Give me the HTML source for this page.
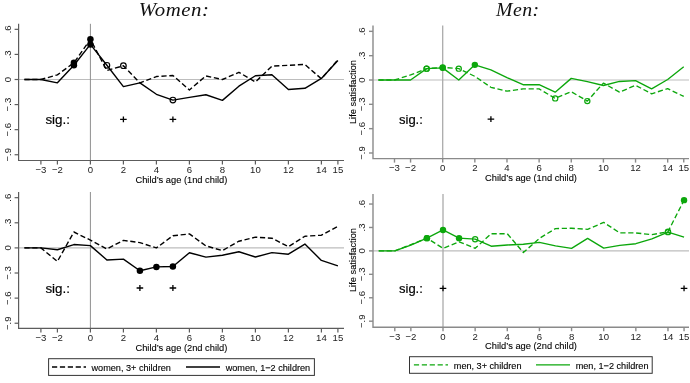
<!DOCTYPE html>
<html><head><meta charset="utf-8"><style>
html,body{margin:0;padding:0;background:#fff;width:690px;height:383px;overflow:hidden}
svg{display:block;will-change:transform}
text{font-family:"Liberation Sans",sans-serif;fill:#000;stroke:#000;stroke-width:0}
.tk{font-size:9.6px;fill:#222}
.tt{font-size:9.3px;stroke-width:0.1px}
.sg{font-size:13.4px;stroke-width:0.18px}
.lg{font-size:9.15px;stroke-width:0.12px}
.ti{font-family:"Liberation Serif",serif;font-style:italic;font-size:19px;letter-spacing:0.5px;fill:#111;stroke:none}
</style></head><body>
<svg width="690" height="383" viewBox="0 0 690 383">
<rect width="690" height="383" fill="#fff"/>
<line x1="18.6" y1="79.5" x2="344" y2="79.5" stroke="#bdbdbd" stroke-width="1.2"/>
<line x1="90.4" y1="23.8" x2="90.4" y2="160.5" stroke="#8f8f8f" stroke-width="1.0"/>
<path d="M18.6 23.8 V160.5 H344" fill="none" stroke="#5c5c5c" stroke-width="1.2"/>
<line x1="14.6" y1="29.34" x2="18.6" y2="29.34" stroke="#5c5c5c" stroke-width="1.2"/>
<text transform="translate(10.8,29.34) rotate(-90)" text-anchor="middle" class="tk">.6</text>
<line x1="14.6" y1="54.42" x2="18.6" y2="54.42" stroke="#5c5c5c" stroke-width="1.2"/>
<text transform="translate(10.8,54.42) rotate(-90)" text-anchor="middle" class="tk">.3</text>
<line x1="14.6" y1="79.5" x2="18.6" y2="79.5" stroke="#5c5c5c" stroke-width="1.2"/>
<text transform="translate(10.8,79.5) rotate(-90)" text-anchor="middle" class="tk">0</text>
<line x1="14.6" y1="104.58" x2="18.6" y2="104.58" stroke="#5c5c5c" stroke-width="1.2"/>
<text transform="translate(10.8,104.58) rotate(-90)" text-anchor="middle" class="tk">−.3</text>
<line x1="14.6" y1="129.66" x2="18.6" y2="129.66" stroke="#5c5c5c" stroke-width="1.2"/>
<text transform="translate(10.8,129.66) rotate(-90)" text-anchor="middle" class="tk">−.6</text>
<line x1="14.6" y1="154.74" x2="18.6" y2="154.74" stroke="#5c5c5c" stroke-width="1.2"/>
<text transform="translate(10.8,154.74) rotate(-90)" text-anchor="middle" class="tk">−.9</text>
<line x1="40.9" y1="160.5" x2="40.9" y2="164.5" stroke="#5c5c5c" stroke-width="1.2"/>
<text x="40.9" y="172.8" text-anchor="middle" class="tk">−3</text>
<line x1="57.4" y1="160.5" x2="57.4" y2="164.5" stroke="#5c5c5c" stroke-width="1.2"/>
<text x="57.4" y="172.8" text-anchor="middle" class="tk">−2</text>
<line x1="90.4" y1="160.5" x2="90.4" y2="164.5" stroke="#5c5c5c" stroke-width="1.2"/>
<text x="90.4" y="172.8" text-anchor="middle" class="tk">0</text>
<line x1="123.4" y1="160.5" x2="123.4" y2="164.5" stroke="#5c5c5c" stroke-width="1.2"/>
<text x="123.4" y="172.8" text-anchor="middle" class="tk">2</text>
<line x1="156.4" y1="160.5" x2="156.4" y2="164.5" stroke="#5c5c5c" stroke-width="1.2"/>
<text x="156.4" y="172.8" text-anchor="middle" class="tk">4</text>
<line x1="189.4" y1="160.5" x2="189.4" y2="164.5" stroke="#5c5c5c" stroke-width="1.2"/>
<text x="189.4" y="172.8" text-anchor="middle" class="tk">6</text>
<line x1="222.4" y1="160.5" x2="222.4" y2="164.5" stroke="#5c5c5c" stroke-width="1.2"/>
<text x="222.4" y="172.8" text-anchor="middle" class="tk">8</text>
<line x1="255.4" y1="160.5" x2="255.4" y2="164.5" stroke="#5c5c5c" stroke-width="1.2"/>
<text x="255.4" y="172.8" text-anchor="middle" class="tk">10</text>
<line x1="288.4" y1="160.5" x2="288.4" y2="164.5" stroke="#5c5c5c" stroke-width="1.2"/>
<text x="288.4" y="172.8" text-anchor="middle" class="tk">12</text>
<line x1="321.4" y1="160.5" x2="321.4" y2="164.5" stroke="#5c5c5c" stroke-width="1.2"/>
<text x="321.4" y="172.8" text-anchor="middle" class="tk">14</text>
<line x1="337.9" y1="160.5" x2="337.9" y2="164.5" stroke="#5c5c5c" stroke-width="1.2"/>
<text x="337.9" y="172.8" text-anchor="middle" class="tk">15</text>
<text x="181.4" y="183.0" text-anchor="middle" class="tt">Child’s age (1nd child)</text>
<polyline points="24.4,79.5 40.9,79.5 57.4,74.9 73.9,62.78 90.4,39.37 106.9,70.55 123.4,65.71 139.9,82.84 156.4,76.57 172.9,75.49 189.4,89.95 205.9,75.91 222.4,79.5 238.9,72.31 255.4,82.01 271.9,66.12 288.4,65.29 304.9,64.45 321.4,78.83 337.9,59.77" fill="none" stroke="#000" stroke-width="1.4" stroke-dasharray="5.2 2.7" stroke-linejoin="round"/>
<polyline points="24.4,79.5 40.9,79.5 57.4,82.84 73.9,65.29 90.4,44.39 106.9,65.29 123.4,86.61 139.9,82.84 156.4,94.3 172.9,100.07 189.4,97.39 205.9,94.72 222.4,100.4 238.9,86.19 255.4,75.74 271.9,74.82 288.4,89.53 304.9,88.28 321.4,78.41 337.9,60.52" fill="none" stroke="#000" stroke-width="1.4" stroke-linejoin="round"/>
<circle cx="73.9" cy="62.78" r="3.25" fill="#000"/>
<circle cx="90.4" cy="39.37" r="3.25" fill="#000"/>
<circle cx="123.4" cy="65.71" r="2.8" fill="none" stroke="#000" stroke-width="1.2"/>
<circle cx="73.9" cy="65.29" r="3.25" fill="#000"/>
<circle cx="90.4" cy="44.39" r="3.25" fill="#000"/>
<circle cx="106.9" cy="65.29" r="2.8" fill="none" stroke="#000" stroke-width="1.2"/>
<circle cx="172.9" cy="100.07" r="2.8" fill="none" stroke="#000" stroke-width="1.2"/>
<text x="45.4" y="123.9" class="sg">sig.:</text>
<path d="M120.1 119.4H126.7M123.4 116.5V122.3" stroke="#000" stroke-width="1.3"/>
<path d="M169.6 119.4H176.2M172.9 116.5V122.3" stroke="#000" stroke-width="1.3"/>
<line x1="18.6" y1="247.9" x2="344" y2="247.9" stroke="#bdbdbd" stroke-width="1.2"/>
<line x1="90.4" y1="192.0" x2="90.4" y2="328.4" stroke="#8f8f8f" stroke-width="1.0"/>
<path d="M18.6 192.0 V328.4 H344" fill="none" stroke="#5c5c5c" stroke-width="1.2"/>
<line x1="14.6" y1="197.68" x2="18.6" y2="197.68" stroke="#5c5c5c" stroke-width="1.2"/>
<text transform="translate(10.8,197.68) rotate(-90)" text-anchor="middle" class="tk">.6</text>
<line x1="14.6" y1="222.79" x2="18.6" y2="222.79" stroke="#5c5c5c" stroke-width="1.2"/>
<text transform="translate(10.8,222.79) rotate(-90)" text-anchor="middle" class="tk">.3</text>
<line x1="14.6" y1="247.9" x2="18.6" y2="247.9" stroke="#5c5c5c" stroke-width="1.2"/>
<text transform="translate(10.8,247.9) rotate(-90)" text-anchor="middle" class="tk">0</text>
<line x1="14.6" y1="273.01" x2="18.6" y2="273.01" stroke="#5c5c5c" stroke-width="1.2"/>
<text transform="translate(10.8,273.01) rotate(-90)" text-anchor="middle" class="tk">−.3</text>
<line x1="14.6" y1="298.12" x2="18.6" y2="298.12" stroke="#5c5c5c" stroke-width="1.2"/>
<text transform="translate(10.8,298.12) rotate(-90)" text-anchor="middle" class="tk">−.6</text>
<line x1="14.6" y1="323.23" x2="18.6" y2="323.23" stroke="#5c5c5c" stroke-width="1.2"/>
<text transform="translate(10.8,323.23) rotate(-90)" text-anchor="middle" class="tk">−.9</text>
<line x1="40.9" y1="328.4" x2="40.9" y2="332.4" stroke="#5c5c5c" stroke-width="1.2"/>
<text x="40.9" y="340.7" text-anchor="middle" class="tk">−3</text>
<line x1="57.4" y1="328.4" x2="57.4" y2="332.4" stroke="#5c5c5c" stroke-width="1.2"/>
<text x="57.4" y="340.7" text-anchor="middle" class="tk">−2</text>
<line x1="90.4" y1="328.4" x2="90.4" y2="332.4" stroke="#5c5c5c" stroke-width="1.2"/>
<text x="90.4" y="340.7" text-anchor="middle" class="tk">0</text>
<line x1="123.4" y1="328.4" x2="123.4" y2="332.4" stroke="#5c5c5c" stroke-width="1.2"/>
<text x="123.4" y="340.7" text-anchor="middle" class="tk">2</text>
<line x1="156.4" y1="328.4" x2="156.4" y2="332.4" stroke="#5c5c5c" stroke-width="1.2"/>
<text x="156.4" y="340.7" text-anchor="middle" class="tk">4</text>
<line x1="189.4" y1="328.4" x2="189.4" y2="332.4" stroke="#5c5c5c" stroke-width="1.2"/>
<text x="189.4" y="340.7" text-anchor="middle" class="tk">6</text>
<line x1="222.4" y1="328.4" x2="222.4" y2="332.4" stroke="#5c5c5c" stroke-width="1.2"/>
<text x="222.4" y="340.7" text-anchor="middle" class="tk">8</text>
<line x1="255.4" y1="328.4" x2="255.4" y2="332.4" stroke="#5c5c5c" stroke-width="1.2"/>
<text x="255.4" y="340.7" text-anchor="middle" class="tk">10</text>
<line x1="288.4" y1="328.4" x2="288.4" y2="332.4" stroke="#5c5c5c" stroke-width="1.2"/>
<text x="288.4" y="340.7" text-anchor="middle" class="tk">12</text>
<line x1="321.4" y1="328.4" x2="321.4" y2="332.4" stroke="#5c5c5c" stroke-width="1.2"/>
<text x="321.4" y="340.7" text-anchor="middle" class="tk">14</text>
<line x1="337.9" y1="328.4" x2="337.9" y2="332.4" stroke="#5c5c5c" stroke-width="1.2"/>
<text x="337.9" y="340.7" text-anchor="middle" class="tk">15</text>
<text x="181.4" y="350.6" text-anchor="middle" class="tt">Child’s age (2nd child)</text>
<polyline points="24.4,247.9 40.9,247.9 57.4,261.46 73.9,232 90.4,240.12 106.9,248.99 123.4,240.37 139.9,242.63 156.4,247.9 172.9,235.76 189.4,233.92 205.9,245.89 222.4,250.58 238.9,241.2 255.4,237.19 271.9,238.19 288.4,246.73 304.9,236.27 321.4,235.18 337.9,226.39" fill="none" stroke="#000" stroke-width="1.4" stroke-dasharray="5.2 2.7" stroke-linejoin="round"/>
<polyline points="24.4,247.9 40.9,247.9 57.4,249.74 73.9,244.55 90.4,245.64 106.9,259.95 123.4,259.12 139.9,270.75 156.4,266.9 172.9,266.57 189.4,252.75 205.9,257.11 222.4,255.27 238.9,251.75 255.4,257.02 271.9,252.59 288.4,254.18 304.9,244.05 321.4,260.45 337.9,265.81" fill="none" stroke="#000" stroke-width="1.4" stroke-linejoin="round"/>
<circle cx="139.9" cy="270.75" r="3.25" fill="#000"/>
<circle cx="156.4" cy="266.9" r="3.25" fill="#000"/>
<circle cx="172.9" cy="266.57" r="3.25" fill="#000"/>
<text x="45.4" y="292.8" class="sg">sig.:</text>
<path d="M136.6 288H143.2M139.9 285.1V290.9" stroke="#000" stroke-width="1.3"/>
<path d="M169.6 288H176.2M172.9 285.1V290.9" stroke="#000" stroke-width="1.3"/>
<line x1="373.0" y1="80" x2="689" y2="80" stroke="#bdbdbd" stroke-width="1.2"/>
<line x1="442.7" y1="25.5" x2="442.7" y2="158.6" stroke="#ababab" stroke-width="1.3"/>
<path d="M373.0 25.5 V158.6 H689" fill="none" stroke="#8a8a8a" stroke-width="1.4"/>
<line x1="369" y1="31.34" x2="373.0" y2="31.34" stroke="#8a8a8a" stroke-width="1.4"/>
<text transform="translate(365.2,31.34) rotate(-90)" text-anchor="middle" class="tk">.6</text>
<line x1="369" y1="55.67" x2="373.0" y2="55.67" stroke="#8a8a8a" stroke-width="1.4"/>
<text transform="translate(365.2,55.67) rotate(-90)" text-anchor="middle" class="tk">.3</text>
<line x1="369" y1="80" x2="373.0" y2="80" stroke="#8a8a8a" stroke-width="1.4"/>
<text transform="translate(365.2,80) rotate(-90)" text-anchor="middle" class="tk">0</text>
<line x1="369" y1="104.33" x2="373.0" y2="104.33" stroke="#8a8a8a" stroke-width="1.4"/>
<text transform="translate(365.2,104.33) rotate(-90)" text-anchor="middle" class="tk">−.3</text>
<line x1="369" y1="128.66" x2="373.0" y2="128.66" stroke="#8a8a8a" stroke-width="1.4"/>
<text transform="translate(365.2,128.66) rotate(-90)" text-anchor="middle" class="tk">−.6</text>
<line x1="369" y1="152.99" x2="373.0" y2="152.99" stroke="#8a8a8a" stroke-width="1.4"/>
<text transform="translate(365.2,152.99) rotate(-90)" text-anchor="middle" class="tk">−.9</text>
<line x1="394.49" y1="158.6" x2="394.49" y2="162.6" stroke="#8a8a8a" stroke-width="1.4"/>
<text x="394.49" y="170.9" text-anchor="middle" class="tk">−3</text>
<line x1="410.56" y1="158.6" x2="410.56" y2="162.6" stroke="#8a8a8a" stroke-width="1.4"/>
<text x="410.56" y="170.9" text-anchor="middle" class="tk">−2</text>
<line x1="442.7" y1="158.6" x2="442.7" y2="162.6" stroke="#8a8a8a" stroke-width="1.4"/>
<text x="442.7" y="170.9" text-anchor="middle" class="tk">0</text>
<line x1="474.84" y1="158.6" x2="474.84" y2="162.6" stroke="#8a8a8a" stroke-width="1.4"/>
<text x="474.84" y="170.9" text-anchor="middle" class="tk">2</text>
<line x1="506.98" y1="158.6" x2="506.98" y2="162.6" stroke="#8a8a8a" stroke-width="1.4"/>
<text x="506.98" y="170.9" text-anchor="middle" class="tk">4</text>
<line x1="539.12" y1="158.6" x2="539.12" y2="162.6" stroke="#8a8a8a" stroke-width="1.4"/>
<text x="539.12" y="170.9" text-anchor="middle" class="tk">6</text>
<line x1="571.26" y1="158.6" x2="571.26" y2="162.6" stroke="#8a8a8a" stroke-width="1.4"/>
<text x="571.26" y="170.9" text-anchor="middle" class="tk">8</text>
<line x1="603.4" y1="158.6" x2="603.4" y2="162.6" stroke="#8a8a8a" stroke-width="1.4"/>
<text x="603.4" y="170.9" text-anchor="middle" class="tk">10</text>
<line x1="635.54" y1="158.6" x2="635.54" y2="162.6" stroke="#8a8a8a" stroke-width="1.4"/>
<text x="635.54" y="170.9" text-anchor="middle" class="tk">12</text>
<line x1="667.68" y1="158.6" x2="667.68" y2="162.6" stroke="#8a8a8a" stroke-width="1.4"/>
<text x="667.68" y="170.9" text-anchor="middle" class="tk">14</text>
<line x1="683.75" y1="158.6" x2="683.75" y2="162.6" stroke="#8a8a8a" stroke-width="1.4"/>
<text x="683.75" y="170.9" text-anchor="middle" class="tk">15</text>
<text x="531.0" y="180.8" text-anchor="middle" class="tt">Child’s age (1nd child)</text>
<text transform="translate(356.3,92.0) rotate(-90)" text-anchor="middle" class="tt">Life satisfaction</text>
<polyline points="378.42,80 394.49,80 410.56,74.97 426.63,68.65 442.7,67.43 458.77,68.65 474.84,76.35 490.91,87.3 506.98,91.19 523.05,88.92 539.12,88.92 555.19,98.41 571.26,91.68 587.33,101.09 603.4,83.08 619.47,92.16 635.54,85.27 651.61,93.79 667.68,88.6 683.75,96.46" fill="none" stroke="#0ca70c" stroke-width="1.35" stroke-dasharray="5.2 2.7" stroke-linejoin="round"/>
<polyline points="378.42,80 394.49,80 410.56,80 426.63,68.65 442.7,67.84 458.77,80 474.84,64.83 490.91,69.86 506.98,77.57 523.05,84.7 539.12,84.7 555.19,92.16 571.26,78.38 587.33,81.62 603.4,85.51 619.47,81.46 635.54,80.65 651.61,88.92 667.68,79.51 683.75,66.7" fill="none" stroke="#0ca70c" stroke-width="1.35" stroke-linejoin="round"/>
<circle cx="426.63" cy="68.65" r="2.6" fill="none" stroke="#0ca70c" stroke-width="1.2"/>
<circle cx="442.7" cy="67.43" r="2.6" fill="none" stroke="#0ca70c" stroke-width="1.2"/>
<circle cx="458.77" cy="68.65" r="2.6" fill="none" stroke="#0ca70c" stroke-width="1.2"/>
<circle cx="555.19" cy="98.41" r="2.6" fill="none" stroke="#0ca70c" stroke-width="1.2"/>
<circle cx="587.33" cy="101.09" r="2.6" fill="none" stroke="#0ca70c" stroke-width="1.2"/>
<circle cx="426.63" cy="68.65" r="2.6" fill="none" stroke="#0ca70c" stroke-width="1.2"/>
<circle cx="442.7" cy="67.84" r="3.2" fill="#0ca70c"/>
<circle cx="474.84" cy="64.83" r="3.2" fill="#0ca70c"/>
<text x="399" y="123.9" class="sg" style="font-size:13px">sig.:</text>
<path d="M487.61 119.1H494.21M490.91 116.2V122" stroke="#000" stroke-width="1.3"/>
<line x1="373.0" y1="250.9" x2="689" y2="250.9" stroke="#bdbdbd" stroke-width="1.2"/>
<line x1="443" y1="193.9" x2="443" y2="327.2" stroke="#ababab" stroke-width="1.3"/>
<path d="M373.0 193.9 V327.2 H689" fill="none" stroke="#8a8a8a" stroke-width="1.4"/>
<line x1="369" y1="204.04" x2="373.0" y2="204.04" stroke="#8a8a8a" stroke-width="1.4"/>
<text transform="translate(365.2,204.04) rotate(-90)" text-anchor="middle" class="tk">.6</text>
<line x1="369" y1="227.47" x2="373.0" y2="227.47" stroke="#8a8a8a" stroke-width="1.4"/>
<text transform="translate(365.2,227.47) rotate(-90)" text-anchor="middle" class="tk">.3</text>
<line x1="369" y1="250.9" x2="373.0" y2="250.9" stroke="#8a8a8a" stroke-width="1.4"/>
<text transform="translate(365.2,250.9) rotate(-90)" text-anchor="middle" class="tk">0</text>
<line x1="369" y1="274.33" x2="373.0" y2="274.33" stroke="#8a8a8a" stroke-width="1.4"/>
<text transform="translate(365.2,274.33) rotate(-90)" text-anchor="middle" class="tk">−.3</text>
<line x1="369" y1="297.76" x2="373.0" y2="297.76" stroke="#8a8a8a" stroke-width="1.4"/>
<text transform="translate(365.2,297.76) rotate(-90)" text-anchor="middle" class="tk">−.6</text>
<line x1="369" y1="321.19" x2="373.0" y2="321.19" stroke="#8a8a8a" stroke-width="1.4"/>
<text transform="translate(365.2,321.19) rotate(-90)" text-anchor="middle" class="tk">−.9</text>
<line x1="394.79" y1="327.2" x2="394.79" y2="331.2" stroke="#8a8a8a" stroke-width="1.4"/>
<text x="394.79" y="339.5" text-anchor="middle" class="tk">−3</text>
<line x1="410.86" y1="327.2" x2="410.86" y2="331.2" stroke="#8a8a8a" stroke-width="1.4"/>
<text x="410.86" y="339.5" text-anchor="middle" class="tk">−2</text>
<line x1="443" y1="327.2" x2="443" y2="331.2" stroke="#8a8a8a" stroke-width="1.4"/>
<text x="443" y="339.5" text-anchor="middle" class="tk">0</text>
<line x1="475.14" y1="327.2" x2="475.14" y2="331.2" stroke="#8a8a8a" stroke-width="1.4"/>
<text x="475.14" y="339.5" text-anchor="middle" class="tk">2</text>
<line x1="507.28" y1="327.2" x2="507.28" y2="331.2" stroke="#8a8a8a" stroke-width="1.4"/>
<text x="507.28" y="339.5" text-anchor="middle" class="tk">4</text>
<line x1="539.42" y1="327.2" x2="539.42" y2="331.2" stroke="#8a8a8a" stroke-width="1.4"/>
<text x="539.42" y="339.5" text-anchor="middle" class="tk">6</text>
<line x1="571.56" y1="327.2" x2="571.56" y2="331.2" stroke="#8a8a8a" stroke-width="1.4"/>
<text x="571.56" y="339.5" text-anchor="middle" class="tk">8</text>
<line x1="603.7" y1="327.2" x2="603.7" y2="331.2" stroke="#8a8a8a" stroke-width="1.4"/>
<text x="603.7" y="339.5" text-anchor="middle" class="tk">10</text>
<line x1="635.84" y1="327.2" x2="635.84" y2="331.2" stroke="#8a8a8a" stroke-width="1.4"/>
<text x="635.84" y="339.5" text-anchor="middle" class="tk">12</text>
<line x1="667.98" y1="327.2" x2="667.98" y2="331.2" stroke="#8a8a8a" stroke-width="1.4"/>
<text x="667.98" y="339.5" text-anchor="middle" class="tk">14</text>
<line x1="684.05" y1="327.2" x2="684.05" y2="331.2" stroke="#8a8a8a" stroke-width="1.4"/>
<text x="684.05" y="339.5" text-anchor="middle" class="tk">15</text>
<text x="531.0" y="349.0" text-anchor="middle" class="tt">Child’s age (2nd child)</text>
<text transform="translate(356.3,260.0) rotate(-90)" text-anchor="middle" class="tt">Life satisfaction</text>
<polyline points="378.72,250.9 394.79,250.9 410.86,244.65 426.93,238.17 443,248.32 459.07,241.76 475.14,248.32 491.21,233.72 507.28,233.72 523.35,252.46 539.42,238.4 555.49,228.56 571.56,228.25 587.63,229.34 603.7,222.39 619.77,232.94 635.84,232.94 651.91,234.66 667.98,231.69 684.05,200.13" fill="none" stroke="#0ca70c" stroke-width="1.35" stroke-dasharray="5.2 2.7" stroke-linejoin="round"/>
<polyline points="378.72,250.9 394.79,250.9 410.86,245.04 426.93,238.17 443,229.97 459.07,238.17 475.14,239.19 491.21,246.21 507.28,245.04 523.35,244.26 539.42,242.31 555.49,245.9 571.56,248.4 587.63,238.4 603.7,248.09 619.77,245.43 635.84,243.71 651.91,238.87 667.98,232.16 684.05,237.15" fill="none" stroke="#0ca70c" stroke-width="1.35" stroke-linejoin="round"/>
<circle cx="426.93" cy="238.17" r="3.2" fill="#0ca70c"/>
<circle cx="667.98" cy="231.69" r="2.6" fill="none" stroke="#0ca70c" stroke-width="1.2"/>
<circle cx="684.05" cy="200.13" r="3.2" fill="#0ca70c"/>
<circle cx="426.93" cy="238.17" r="3.2" fill="#0ca70c"/>
<circle cx="443" cy="229.97" r="3.2" fill="#0ca70c"/>
<circle cx="459.07" cy="238.17" r="3.2" fill="#0ca70c"/>
<circle cx="475.14" cy="239.19" r="2.6" fill="none" stroke="#0ca70c" stroke-width="1.2"/>
<circle cx="667.98" cy="232.16" r="2.6" fill="none" stroke="#0ca70c" stroke-width="1.2"/>
<text x="399" y="292.8" class="sg" style="font-size:13px">sig.:</text>
<path d="M439.7 288.4H446.3M443 285.5V291.3" stroke="#000" stroke-width="1.3"/>
<path d="M680.75 288.4H687.35M684.05 285.5V291.3" stroke="#000" stroke-width="1.3"/>
<text transform="translate(174.2,16.0) scale(1.095,1)" text-anchor="middle" class="ti">Women:</text>
<text transform="translate(517.8,15.9) scale(1.04,1)" text-anchor="middle" class="ti">Men:</text>
<rect x="48.6" y="358.7" width="265.8" height="16.7" fill="#fff" stroke="#333" stroke-width="1"/>
<line x1="52" y1="367.1" x2="86" y2="367.1" stroke="#000" stroke-width="1.5" stroke-dasharray="5.2 2.7"/>
<text x="91.5" y="370.6" class="lg">women, 3+ children</text>
<line x1="186" y1="367.1" x2="220" y2="367.1" stroke="#000" stroke-width="1.5"/>
<text x="225.7" y="370.6" class="lg">women, 1−2 children</text>
<rect x="409.5" y="356.7" width="242.7" height="16.6" fill="#fff" stroke="#333" stroke-width="1"/>
<line x1="413.9" y1="364.9" x2="448" y2="364.9" stroke="#0ca70c" stroke-width="1.4" stroke-dasharray="5.2 2.7"/>
<text x="453.8" y="368.6" class="lg">men, 3+ children</text>
<line x1="536" y1="364.9" x2="570" y2="364.9" stroke="#0ca70c" stroke-width="1.4"/>
<text x="575.7" y="368.6" class="lg">men, 1−2 children</text>
</svg>
</body></html>
